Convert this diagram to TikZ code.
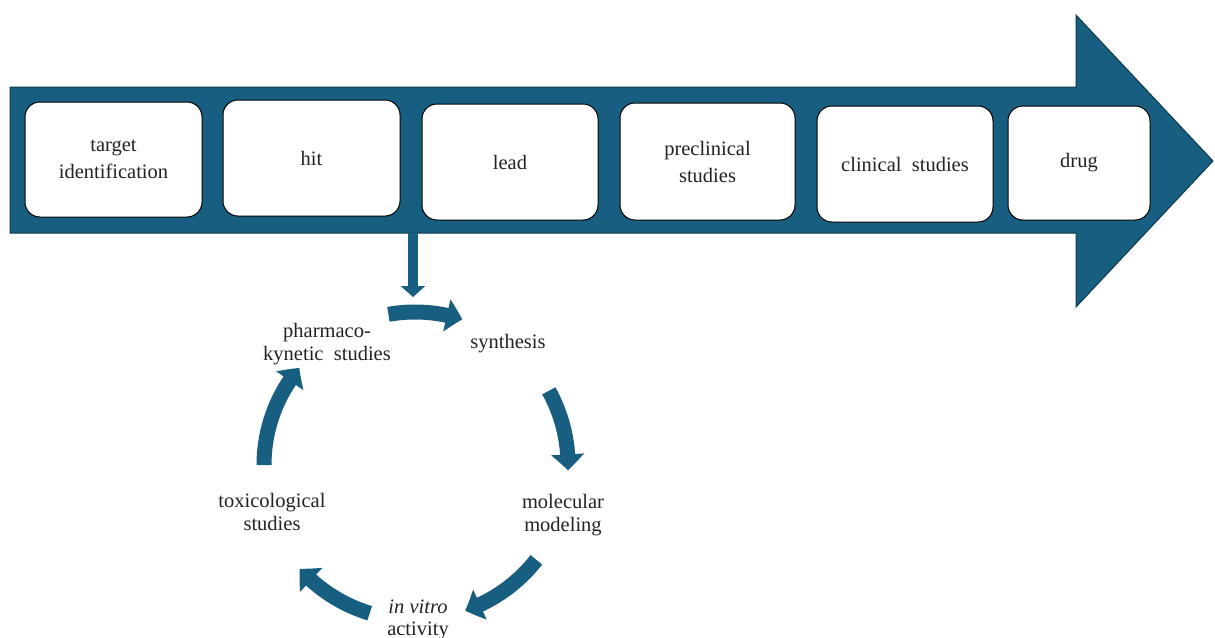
\documentclass[tikz,border=0pt]{standalone}
\usepackage{fontspec}
\setmainfont{Liberation Serif}
\usetikzlibrary{arrows.meta,bending}
\definecolor{pipeblue}{HTML}{175E80}
\definecolor{pipedark}{HTML}{0E3A50}
\definecolor{txt}{HTML}{222222}
\begin{document}
\begin{tikzpicture}[x=1pt,y=1pt,
  stage/.style={draw=black, line width=1pt, fill=white, rounded corners=15pt,
    align=center, font=\rmfamily\fontsize{20.5}{27}\selectfont, text=txt, inner sep=0pt},
  lbl/.style={align=center, font=\rmfamily\fontsize{20.5}{22.5}\selectfont, text=txt, inner sep=0pt},
  cyc/.style={draw=pipeblue, line width=15pt, -{Triangle[width=32pt,length=16pt,bend]}},
  downarr/.style={draw=pipeblue, line width=10pt, -{Triangle[width=24pt,length=11pt]}},
]
\useasboundingbox (0,0) rectangle (1215,-637);
% big process arrow
\filldraw[fill=pipeblue, draw=pipedark, line width=1pt]
  (10,-87) -- (1076,-87) -- (1076,-15) -- (1213,-161) -- (1076,-307)
  -- (1076,-233) -- (10,-233) -- cycle;
% stage boxes
\node[stage, minimum width=177pt, minimum height=115pt] (s1) at (113.5,-159.5) {target\\identification};
\node[stage, minimum width=177pt, minimum height=116pt] (s2) at (311.5,-158) {hit};
\node[stage, minimum width=176pt, minimum height=116pt] (s3) at (510,-162) {lead};
\node[stage, minimum width=175pt, minimum height=117pt] (s4) at (707.5,-161.5) {preclinical\\studies};
\node[stage, minimum width=176pt, minimum height=116pt] (s5) at (905,-164) {clinical\ \ studies};
\node[stage, minimum width=142pt, minimum height=114pt] (s6) at (1079,-163) {drug};
% down arrow into cycle
\coordinate (dtop) at (413,-233);
\coordinate (dbot) at (413,-297);
\draw[downarr] (dtop) -- (dbot);
% cycle labels
\node[lbl] (pk) at (327,-344) {pharmaco-\\kynetic\ \ studies};
\node[lbl] (syn) at (508,-344) {synthesis};
\node[lbl] (mol) at (563,-515) {molecular\\modeling};
\node[lbl] (ivt) at (418,-620) {\textit{in vitro}\\activity};
\node[lbl] (tox) at (272,-512) {toxicological\\studies};
% cycle arrows
\coordinate (c) at (415,-465);
\draw[cyc] ([shift={(100:153)}]c) arc[start angle=100, end angle=72, radius=153];
\draw[cyc] ([shift={(29:153)}]c) arc[start angle=29, end angle=-2, radius=153];
\draw[cyc] ([shift={(-38:154)}]c) arc[start angle=-38, end angle=-71, radius=154];
\draw[cyc] ([shift={(-107:155)}]c) arc[start angle=-107, end angle=-138, radius=155];
\draw[cyc] ([shift={(180:151)}]c) arc[start angle=180, end angle=140, radius=151];
\end{tikzpicture}
\end{document}
